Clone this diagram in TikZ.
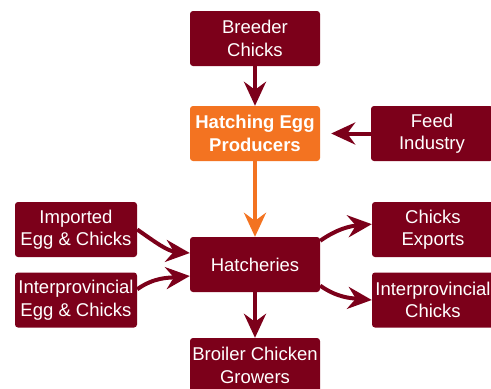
\documentclass[tikz,border=0pt]{standalone}
\usepackage{fontspec}
\setmainfont{Liberation Sans}
\usetikzlibrary{arrows.meta}
\definecolor{wine}{RGB}{124,0,26}
\definecolor{eggorange}{RGB}{243,115,33}
\tikzset{
  box/.style={fill=wine, rounded corners=3pt, text=white, align=center,
    inner sep=0pt, minimum width=130pt, minimum height=55pt,
    font=\fontsize{18.5}{22.5}\selectfont},
  sidebox/.style={box, minimum width=122pt},
  flow/.style={draw=wine, line width=4pt,
    -{Stealth[length=24pt,width=22pt,inset=8pt]}},
}
\begin{document}
\begin{tikzpicture}[x=1pt, y=-1pt]
    \useasboundingbox (0, 0) rectangle (491, 389);

    \node[box] (breeder) at (255, 38.5) {Breeder\\Chicks};
    \node[box, fill=eggorange, font=\fontsize{18.5}{22.5}\selectfont\bfseries] (hatching) at (255, 133.5) {Hatching Egg\\Producers};
    \node[sidebox] (feed) at (432, 133.5) {Feed\\Industry};

    \node[sidebox] (imported) at (76, 229.5) {Imported\\Egg \& Chicks};
    \node[sidebox] (interegg) at (76, 300) {Interprovincial\\Egg \& Chicks};
    \node[box] (hatch) at (255, 264.5) {Hatcheries};
    \node[sidebox] (exports) at (433, 229.5) {Chicks\\Exports};
    \node[sidebox] (interchicks) at (433, 300) {Interprovincial\\Chicks};
    \node[box] (broiler) at (255, 365.5) {Broiler Chicken\\Growers};

    \draw[flow] (breeder) -- (hatching);
    \draw[flow, shorten >=11pt] (feed) -- (hatching);
    \draw[flow, draw=eggorange] (hatching) -- (hatch);
    \draw[flow] (hatch) -- (broiler);

    \draw[flow] (imported.east) to[out=-35, in=175] (hatch.170);
    \draw[flow] (interegg.10) to[out=35, in=185] (hatch.190);
    \draw[flow] (hatch.20) to[out=35, in=185] (exports.175);
    \draw[flow] (hatch.-18) to[out=-35, in=175] (interchicks.west);
\end{tikzpicture}
\end{document}
